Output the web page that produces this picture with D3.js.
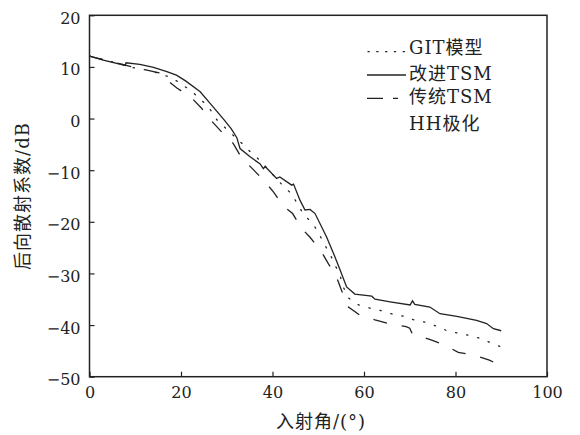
<!DOCTYPE html>
<html>
<head>
<meta charset="utf-8">
<script src="https://cdn.jsdelivr.net/npm/d3@7"></script>
<style>
  body { margin: 0; background: #fff; }
  svg text { font-family: "DejaVu Serif", "Noto Sans CJK SC", serif; fill: #222; }
  .title { font-size: 18px; letter-spacing: 1px; }
</style>
</head>
<body>
<div id="chart"></div>
<script>
// 入射角 (deg) vs 后向散射系数 (dB), HH polarisation
var gitModel = [
	[0, 12.1], [8, 10.3], [9.2, 9.9], [13.2, 9.3], [18, 7.9], [20.2, 6.6], [22.3, 5.3], [26, 2.3],
	[27.8, -0.2], [30.5, -2.5], [33.3, -4.8], [35.1, -6.4], [37, -7.9], [39.5, -10.3], [42.4, -13.1],
	[44.2, -14.6], [45.5, -16.6], [46.9, -18.7], [48.8, -20.3], [50.1, -22.2], [51.3, -24.3],
	[52.6, -26.3], [53.7, -28.4], [54.8, -30.5], [55.5, -32.7], [56.7, -34.8], [58.8, -36.1],
	[61.3, -36.7], [63.7, -37.2], [66.3, -37.9], [68.7, -38.3], [71.3, -39.1], [73.7, -39.5],
	[76.1, -40.3], [78.4, -41.2], [81, -41.6], [83.5, -42.1], [85.9, -42.7], [88.3, -43.7], [90, -44.2]
];
var improvedTSM = [
	[0, 12.1], [3, 11.3], [7.8, 10.3], [8, 10.8], [11, 10.5], [14, 9.9], [16.9, 9.1], [19, 8.4],
	[21, 7.3], [24.2, 5.2], [26.5, 2.8], [29.2, 0], [31, -2], [32.2, -3.7], [32.9, -5.8], [35.1, -7.4],
	[37.3, -8.8], [38, -9.7], [38.4, -9.3], [40.9, -11.6], [41.6, -11.3], [44.2, -12.9], [44.6, -12.7],
	[46, -15.8], [47.1, -17.7], [48.2, -17.6], [49.3, -18.4], [51.8, -22.9], [53.5, -26.5],
	[54.8, -29.4], [56.2, -32.6], [58, -34.0], [61.7, -34.4], [62.4, -35.0], [65.7, -35.5],
	[70.1, -36.1], [70.6, -35.3], [71.1, -36.0], [74.4, -36.5], [76.6, -37.8], [80.3, -38.3],
	[84.6, -39.1], [86.8, -39.7], [88.3, -40.7], [90, -41.1]
];
var traditionalTSM = [
	[0, 12.1], [8, 10.3], [10.7, 9.7], [14, 9.1], [16, 8.7], [16.6, 7.7], [19.1, 5.9], [22.1, 4.2],
	[24.5, 2], [26.5, -0.3], [29.2, -2.9], [31.4, -4.8], [33.3, -7.7], [35.6, -9.7], [38, -11.9],
	[40.2, -14.2], [42.2, -16.8], [44.4, -18.4], [46.4, -21.3], [48.2, -23], [50.5, -25.5],
	[52.2, -28.1], [54, -30.7], [55.1, -33.3], [56.6, -36.5], [59.1, -38.1], [62.4, -39],
	[65.7, -39.8], [69.2, -40.3], [70, -40.6], [70.6, -41.8], [71.5, -42], [74.8, -42.9],
	[77.7, -43.9], [80.6, -45.3], [83.9, -45.8], [87.4, -46.8], [90, -47.9]
];
var xTicks = [0, 20, 40, 60, 80, 100];
var yTicks = [-50, -40, -30, -20, -10, 0, 10, 20];
var legendLabels = ['GIT模型', '改进TSM', '传统TSM'];

var width = 580, height = 435;
var margin = { top: 15.3, right: 33, bottom: 58.3, left: 89.5 };

var svg = d3.select('#chart').append('svg').attr('width', width).attr('height', height);

var x = d3.scaleLinear().domain([0, 100]).range([margin.left, width - margin.right]);
var y = d3.scaleLinear().domain([-50, 20]).range([height - margin.bottom, margin.top]);

// axes, ticks pointing inward
var xAxis = svg.append('g')
	.attr('transform', 'translate(0,' + y(-50) + ')')
	.call(d3.axisBottom(x).tickValues(xTicks).tickSize(-5).tickPadding(10).tickFormat(d3.format('d')));
var yAxis = svg.append('g')
	.attr('transform', 'translate(' + x(0) + ',0)')
	.call(d3.axisLeft(y).tickValues(yTicks).tickSize(-5).tickPadding(9)
		.tickFormat(function (d) { return d < 0 ? '\u2212' + Math.abs(d) : d; }));

[xAxis, yAxis].forEach(function (g) {
	g.select('.domain').remove();
	g.selectAll('line').attr('stroke', '#222').attr('stroke-width', 1.2);
	g.selectAll('text').style('font-size', '16px').attr('fill', '#222');
});
yAxis.selectAll('text').attr('dy', '0.5em');

svg.append('rect')
	.attr('x', x(0)).attr('y', y(20))
	.attr('width', x(100) - x(0)).attr('height', y(-50) - y(20))
	.attr('fill', 'none').attr('stroke', '#222').attr('stroke-width', 1.5);

var line = d3.line()
	.x(function (d) { return x(d[0]); })
	.y(function (d) { return y(d[1]); });

var styles = [
	{ data: gitModel, dash: '1.3,10', cap: 'round' },
	{ data: improvedTSM, dash: null, cap: 'butt' },
	{ data: traditionalTSM, dash: '14,15', cap: 'butt' }
];

styles.forEach(function (s) {
	svg.append('path')
		.datum(s.data)
		.attr('d', line)
		.attr('fill', 'none')
		.attr('stroke', '#222')
		.attr('stroke-width', 1.3)
		.attr('stroke-linecap', s.cap)
		.attr('stroke-dasharray', s.dash);
});

// legend
var legend = svg.append('g');
var legendRows = [
	{ lineY: 51.7, textY: 54.3, dash: '1.2,7.6', offset: -1 },
	{ lineY: 75, textY: 80, dash: null, offset: 0 },
	{ lineY: 98.3, textY: 103.3, dash: '16,10,5,100', offset: 0 }
];
legendRows.forEach(function (r, i) {
	legend.append('line')
		.attr('x1', 367).attr('x2', 406)
		.attr('y1', r.lineY).attr('y2', r.lineY)
		.attr('stroke', '#222').attr('stroke-width', 1.3)
		.attr('stroke-linecap', i === 0 ? 'round' : 'butt')
		.attr('stroke-dasharray', r.dash)
		.attr('stroke-dashoffset', r.offset);
	legend.append('text')
		.attr('class', 'title')
		.attr('x', 409).attr('y', r.textY)
		.text(legendLabels[i]);
});
legend.append('text')
	.attr('class', 'title')
	.attr('x', 409).attr('y', 130)
	.text('HH极化');

// axis titles
svg.append('text')
	.attr('class', 'title')
	.attr('x', 321).attr('y', 428)
	.attr('text-anchor', 'middle')
	.text('入射角/(°)');

svg.append('text')
	.attr('class', 'title')
	.attr('transform', 'translate(22,196) rotate(-90)')
	.attr('text-anchor', 'middle')
	.attr('dominant-baseline', 'central')
	.text('后向散射系数/dB');
</script>
</body>
</html>
